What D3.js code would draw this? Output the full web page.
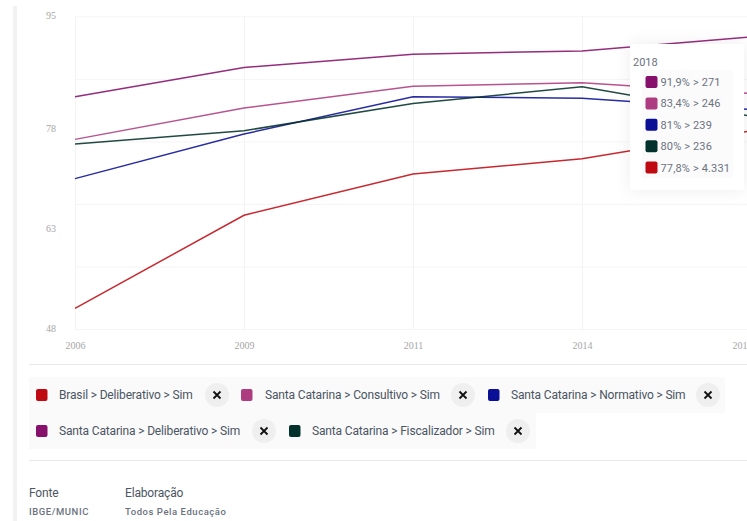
<!DOCTYPE html>
<html><head><meta charset="utf-8">
<script src="https://cdn.jsdelivr.net/npm/d3@7"></script>
<style>html,body{margin:0;padding:0;background:#fff;overflow:hidden}svg{display:block}</style>
</head><body><svg id="c" width="747" height="521"></svg>
<script>
const years=["2006","2009","2011","2014","2018"];
const yTickLabels=[95,78,63,48];
const seriesNames=["Brasil > Deliberativo > Sim","Santa Catarina > Consultivo > Sim","Santa Catarina > Normativo > Sim","Santa Catarina > Deliberativo > Sim","Santa Catarina > Fiscalizador > Sim"];
const brasilDeliberativo=[51.1,65.1,71.3,73.6,77.8];
const scConsultivo=[76.5,81.2,84.5,85,83.4];
const scNormativo=[70.6,77.3,82.9,82.7,81];
const scDeliberativo=[82.9,87.3,89.3,89.8,91.9];
const scFiscalizador=[75.8,77.8,81.9,84.4,80];
const seriesColors=["#c00a12","#ad3c80","#0a0f96","#86106c","#03312b"];
const tooltipYear="2018";
const tooltipOrder=[3,1,2,4,0];
const tooltipCounts=["271","246","239","236","4.331"];
const tooltipPct=["91,9%","83,4%","81%","80%","77,8%"];
const sourceHeads=["Fonte","Elaboração"];
const sourceValues=["IBGE/MUNIC","Todos Pela Educação"];

const allSeries=[brasilDeliberativo,scConsultivo,scNormativo,scDeliberativo,scFiscalizador];
const svg=d3.select("#c");
const sans="Roboto, sans-serif", serif="'Liberation Serif', serif";
const x=d3.scalePoint().domain(years).range([75,751]);
const y=d3.scaleLinear().domain([48,95]).range([329,16.3]);

svg.append("rect").attr("x",13).attr("y",6).attr("width",4).attr("height",515).attr("fill","#f2f2f2");

// grid
const gridVals=d3.range(6).map(i=>95-i*47/5);
svg.append("g").selectAll("line").data(gridVals).join("line")
 .attr("x1",75).attr("x2",747).attr("y1",d=>y(d)+.5).attr("y2",d=>y(d)+.5)
 .attr("stroke","#f5f5f5").attr("stroke-width",1);
svg.append("g").selectAll("line").data(years).join("line")
 .attr("x1",d=>Math.round(x(d))+.5).attr("x2",d=>Math.round(x(d))+.5).attr("y1",16).attr("y2",329)
 .attr("stroke","#f3f3f3").attr("stroke-width",1);

// axes
const axX=svg.append("g").attr("transform","translate(0,329)").call(d3.axisBottom(x).tickSize(0).tickPadding(13));
axX.select(".domain").remove();
axX.selectAll("text").attr("font-family",serif).attr("font-size",10).attr("fill","#a6a6a6")
 .attr("dx",d=>d==="2018"?-9:0);
const axY=svg.append("g").attr("transform","translate(56,0)").call(d3.axisLeft(y).tickValues(yTickLabels).tickSize(0).tickPadding(0));
axY.select(".domain").remove();
axY.selectAll("text").attr("font-family",serif).attr("font-size",10).attr("fill","#a6a6a6").attr("dy","0.25em");

// lines
const line=d3.line().x((d,i)=>x(years[i])).y(d=>y(d));
svg.append("g").selectAll("path").data(allSeries).join("path")
 .attr("d",line).attr("fill","none").attr("stroke-width",1.5).attr("stroke-opacity",.88)
 .attr("stroke",(d,i)=>seriesColors[i]);

// tooltip
const defs=svg.append("defs");
const f=defs.append("filter").attr("id","sh").attr("x","-30%").attr("y","-30%").attr("width","160%").attr("height","160%");
f.append("feDropShadow").attr("dx",0).attr("dy",0).attr("stdDeviation",8).attr("flood-color","#000").attr("flood-opacity",.07);
const tip=svg.append("g");
tip.append("rect").attr("x",630).attr("y",44).attr("width",114).attr("height",146).attr("fill","#fff").attr("filter","url(#sh)");
tip.append("rect").attr("x",642).attr("y",70).attr("width",91).attr("height",108).attr("fill","#fbfbfb");
tip.append("text").attr("x",633).attr("y",66).text(tooltipYear).attr("font-family",sans).attr("font-size",11).attr("fill","#6b7280");
tooltipOrder.forEach((s,i)=>{
  const cy=82+i*21.4;
  tip.append("rect").attr("x",645.5).attr("y",cy-6).attr("width",12).attr("height",12).attr("rx",2).attr("fill",seriesColors[s]);
  tip.append("text").attr("x",660.5).attr("y",cy+4).text(`${tooltipPct[i]} > ${tooltipCounts[i]}`).attr("font-family",sans).attr("font-size",11).attr("letter-spacing",.15).attr("fill","#6b7280");
});

// separators
svg.selectAll(".sep").data([364.5,460.5]).join("line").attr("class","sep").attr("x1",29).attr("x2",747).attr("y1",d=>d).attr("y2",d=>d).attr("stroke","#e8e8e8").attr("stroke-width",1);

// legend
const rows=[{x:29,w:696,y:377,items:[[0,36,59,217],[1,241,265,463],[2,488,511,708]]},{x:29,w:507,y:413,items:[[3,36,59,264],[4,289,312,518]]}];
rows.forEach(r=>{
  svg.append("rect").attr("x",r.x).attr("y",r.y).attr("width",r.w).attr("height",36).attr("fill","#fafafa");
  const cy=r.y+18;
  r.items.forEach(([s,sx,tx,cx])=>{
    svg.append("rect").attr("x",sx).attr("y",cy-6).attr("width",11.5).attr("height",12).attr("rx",2).attr("fill",seriesColors[s]);
    svg.append("text").attr("x",tx).attr("y",cy+4).text(seriesNames[s]).attr("font-family",sans).attr("font-size",12).attr("letter-spacing",-.16).attr("fill","#4b5563");
    svg.append("circle").attr("cx",cx).attr("cy",cy).attr("r",12).attr("fill","#efefef");
    svg.append("path").attr("d",`M${cx-3.5},${cy-3.5}L${cx+3.5},${cy+3.5}M${cx+3.5},${cy-3.5}L${cx-3.5},${cy+3.5}`).attr("stroke","#111").attr("stroke-width",1.8);
  });
});

// source
[29,125].forEach((px,i)=>{
  svg.append("text").attr("x",px).attr("y",497).text(sourceHeads[i]).attr("font-family",sans).attr("font-size",12).attr("letter-spacing",-.16).attr("fill","#4b5563");
  svg.append("text").attr("x",px).attr("y",515).text(sourceValues[i]).attr("font-family",sans).attr("font-size",9.5).attr("font-weight",500).attr("letter-spacing",.55).attr("fill","#6b7280");
});
</script></body></html>
